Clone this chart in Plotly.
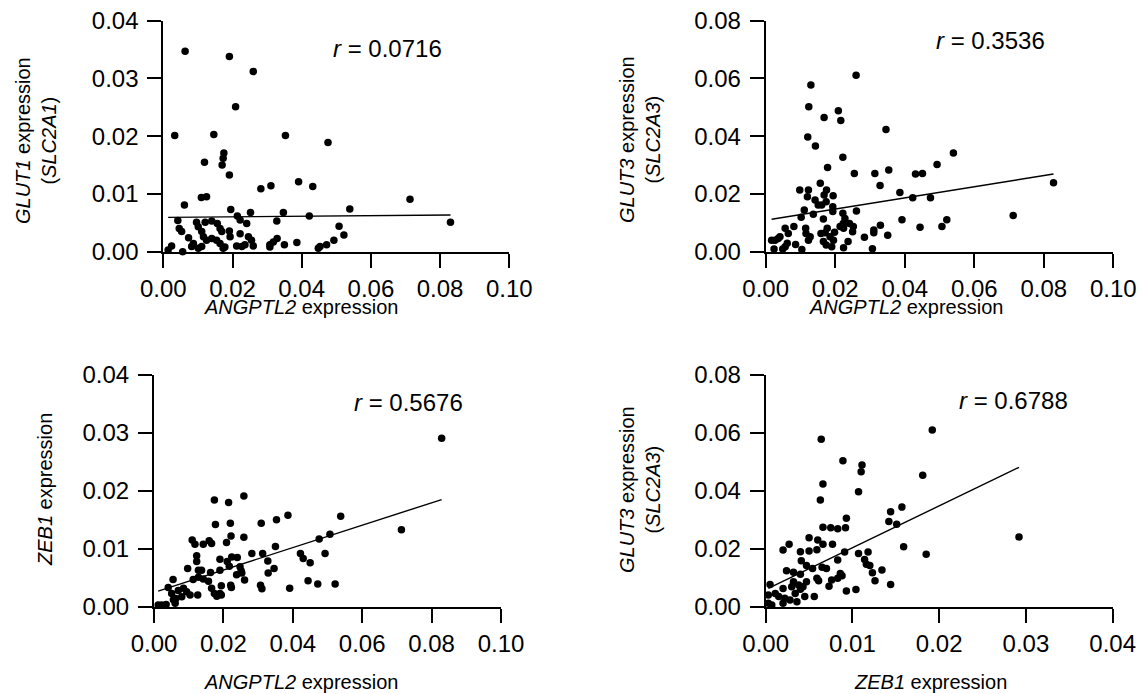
import numpy as np
import plotly.graph_objects as go

# ---------------- data ----------------
# Panel 1: ANGPTL2 vs GLUT1 (SLC2A1)
p1_x = [0.0063, 0.0191, 0.0260, 0.0209, 0.0033, 0.0146, 0.0353, 0.0476, 0.0175, 0.0173,
        0.0170, 0.0119, 0.0191, 0.0391, 0.0311, 0.0432, 0.0282, 0.0713, 0.0110, 0.0125,
        0.0061, 0.0195, 0.0252, 0.0347, 0.0539, 0.0422, 0.0830, 0.0214, 0.0222, 0.0241,
        0.0328, 0.0042, 0.0508, 0.0046, 0.0053, 0.0096, 0.0101, 0.0121, 0.0140, 0.0156,
        0.0164, 0.0169, 0.0191, 0.0193, 0.0111, 0.0116, 0.0125, 0.0140, 0.0154, 0.0073,
        0.0087, 0.0082, 0.0101, 0.0111, 0.0164, 0.0173, 0.0178, 0.0222, 0.0246, 0.0255,
        0.0260, 0.0236, 0.0212, 0.0227, 0.0329, 0.0318, 0.0308, 0.0308, 0.0350, 0.0386,
        0.0448, 0.0453, 0.0472, 0.0493, 0.0522, 0.0024, 0.0014, 0.0056]
p1_y = [0.0347, 0.0338, 0.0312, 0.0251, 0.0201, 0.0203, 0.0201, 0.0189, 0.0171, 0.0162,
        0.0150, 0.0155, 0.0133, 0.0121, 0.0114, 0.0113, 0.0109, 0.0091, 0.0094, 0.0095,
        0.0081, 0.0073, 0.0068, 0.0068, 0.0074, 0.0062, 0.0051, 0.0062, 0.0055, 0.0049,
        0.0053, 0.0054, 0.0044, 0.0040, 0.0035, 0.0051, 0.0043, 0.0051, 0.0053, 0.0049,
        0.0040, 0.0035, 0.0036, 0.0026, 0.0035, 0.0026, 0.0020, 0.0023, 0.0020, 0.0024,
        0.0014, 0.0009, 0.0006, 0.0009, 0.0014, 0.0006, 0.0008, 0.0031, 0.0026, 0.0020,
        0.0010, 0.0012, 0.0010, 0.0009, 0.0023, 0.0017, 0.0012, 0.0008, 0.0012, 0.0016,
        0.0006, 0.0009, 0.0012, 0.0020, 0.0029, 0.0010, 0.0003, 0.0000]

# Panel 2: ANGPTL2 vs GLUT3 (SLC2A3)
p2_x = [0.0260, 0.0130, 0.0124, 0.0209, 0.0168, 0.0216, 0.0346, 0.0121, 0.0143, 0.0540,
        0.0222, 0.0493, 0.0178, 0.0255, 0.0314, 0.0354, 0.0431, 0.0451, 0.0157, 0.0329,
        0.0828, 0.0386, 0.0098, 0.0123, 0.0175, 0.0120, 0.0142, 0.0168, 0.0194, 0.0423,
        0.0474, 0.0174, 0.0151, 0.0161, 0.0193, 0.0111, 0.0137, 0.0193, 0.0261, 0.0222,
        0.0228, 0.0223, 0.0712, 0.0102, 0.0166, 0.0392, 0.0521, 0.0241, 0.0252, 0.0250,
        0.0330, 0.0115, 0.0128, 0.0123, 0.0116, 0.0081, 0.0056, 0.0065, 0.0041, 0.0017,
        0.0027, 0.0036, 0.0444, 0.0507, 0.0177, 0.0171, 0.0159, 0.0185, 0.0198, 0.0166,
        0.0174, 0.0190, 0.0195, 0.0224, 0.0214, 0.0237, 0.0224, 0.0284, 0.0311, 0.0311,
        0.0351, 0.0307, 0.0104, 0.0086, 0.0062, 0.0024, 0.0049, 0.0056]
p2_y = [0.0611, 0.0577, 0.0502, 0.0488, 0.0465, 0.0454, 0.0423, 0.0397, 0.0366, 0.0342,
        0.0327, 0.0302, 0.0292, 0.0271, 0.0271, 0.0283, 0.0269, 0.0271, 0.0237, 0.0229,
        0.0239, 0.0205, 0.0214, 0.0214, 0.0214, 0.0190, 0.0179, 0.0196, 0.0194, 0.0187,
        0.0187, 0.0173, 0.0162, 0.0162, 0.0156, 0.0144, 0.0130, 0.0139, 0.0141, 0.0133,
        0.0115, 0.0098, 0.0125, 0.0119, 0.0113, 0.0111, 0.0111, 0.0098, 0.0087, 0.0069,
        0.0092, 0.0081, 0.0052, 0.0040, 0.0063, 0.0087, 0.0081, 0.0063, 0.0052, 0.0040,
        0.0040, 0.0046, 0.0085, 0.0087, 0.0081, 0.0066, 0.0063, 0.0052, 0.0067, 0.0035,
        0.0023, 0.0017, 0.0040, 0.0081, 0.0087, 0.0035, 0.0014, 0.0050, 0.0075, 0.0066,
        0.0057, 0.0010, 0.0008, 0.0025, 0.0029, 0.0009, 0.0009, 0.0017]

# Panel 3: ANGPTL2 vs ZEB1
p3_x = [0.0829, 0.0174, 0.0215, 0.0259, 0.0177, 0.0220, 0.0309, 0.0353, 0.0386, 0.0538,
        0.0713, 0.0222, 0.0259, 0.0110, 0.0118, 0.0142, 0.0159, 0.0166, 0.0209, 0.0476,
        0.0507, 0.0123, 0.0123, 0.0350, 0.0282, 0.0313, 0.0224, 0.0240, 0.0190, 0.0211,
        0.0217, 0.0328, 0.0422, 0.0430, 0.0450, 0.0493, 0.0097, 0.0128, 0.0137, 0.0163,
        0.0190, 0.0248, 0.0251, 0.0238, 0.0253, 0.0346, 0.0329, 0.0055, 0.0113, 0.0128,
        0.0142, 0.0157, 0.0261, 0.0444, 0.0472, 0.0522, 0.0391, 0.0307, 0.0311, 0.0221,
        0.0223, 0.0194, 0.0194, 0.0166, 0.0174, 0.0181, 0.0190, 0.0126, 0.0041, 0.0051,
        0.0070, 0.0085, 0.0080, 0.0104, 0.0094, 0.0056, 0.0061, 0.0063, 0.0012, 0.0022,
        0.0035]
p3_y = [0.0291, 0.0184, 0.0180, 0.0191, 0.0142, 0.0144, 0.0144, 0.0150, 0.0158, 0.0156,
        0.0133, 0.0122, 0.0120, 0.0115, 0.0108, 0.0108, 0.0114, 0.0109, 0.0111, 0.0117,
        0.0125, 0.0088, 0.0078, 0.0104, 0.0092, 0.0092, 0.0086, 0.0085, 0.0082, 0.0078,
        0.0070, 0.0079, 0.0092, 0.0083, 0.0076, 0.0092, 0.0066, 0.0063, 0.0063, 0.0059,
        0.0063, 0.0069, 0.0062, 0.0055, 0.0058, 0.0066, 0.0058, 0.0047, 0.0047, 0.0051,
        0.0048, 0.0044, 0.0046, 0.0045, 0.0039, 0.0039, 0.0032, 0.0037, 0.0031, 0.0037,
        0.0033, 0.0036, 0.0020, 0.0032, 0.0023, 0.0018, 0.0023, 0.0020, 0.0033, 0.0023,
        0.0028, 0.0032, 0.0017, 0.0020, 0.0026, 0.0012, 0.0006, 0.0014, 0.0003, 0.0003,
        0.0004]

# Panel 4: ZEB1 vs GLUT3 (SLC2A3)
p4_x = [0.0192, 0.0064, 0.0089, 0.0111, 0.0110, 0.0181, 0.0066, 0.0107, 0.0063, 0.0157,
        0.0144, 0.0142, 0.0151, 0.0093, 0.0066, 0.0075, 0.0083, 0.0092, 0.0292, 0.0050,
        0.0060, 0.0027, 0.0020, 0.0066, 0.0077, 0.0040, 0.0050, 0.0059, 0.0159, 0.0185,
        0.0091, 0.0107, 0.0118, 0.0041, 0.0047, 0.0054, 0.0083, 0.0114, 0.0116, 0.0120,
        0.0065, 0.0070, 0.0123, 0.0134, 0.0126, 0.0024, 0.0032, 0.0040, 0.0059, 0.0061,
        0.0076, 0.0083, 0.0086, 0.0088, 0.0073, 0.0144, 0.0093, 0.0104, 0.0005, 0.0011,
        0.0020, 0.0030, 0.0032, 0.0038, 0.0043, 0.0047, 0.0034, 0.0040, 0.0045, 0.0056,
        0.0022, 0.0020, 0.0036, 0.0028, 0.0003, 0.0003, 0.0007, 0.0015]
p4_y = [0.0610, 0.0578, 0.0504, 0.0489, 0.0466, 0.0454, 0.0424, 0.0397, 0.0368, 0.0344,
        0.0328, 0.0294, 0.0285, 0.0305, 0.0274, 0.0273, 0.0269, 0.0273, 0.0241, 0.0238,
        0.0230, 0.0216, 0.0196, 0.0216, 0.0216, 0.0190, 0.0192, 0.0197, 0.0207, 0.0181,
        0.0189, 0.0184, 0.0189, 0.0159, 0.0142, 0.0132, 0.0161, 0.0163, 0.0147, 0.0142,
        0.0136, 0.0132, 0.0117, 0.0127, 0.0090, 0.0124, 0.0119, 0.0112, 0.0098, 0.0090,
        0.0092, 0.0098, 0.0115, 0.0107, 0.0071, 0.0077, 0.0054, 0.0059, 0.0077, 0.0046,
        0.0063, 0.0069, 0.0086, 0.0075, 0.0069, 0.0086, 0.0046, 0.0060, 0.0035, 0.0035,
        0.0029, 0.0012, 0.0017, 0.0023, 0.0040, 0.0012, 0.0006, 0.0035]

# regression lines (slope, intercept)
fit_slope = [0.0049, 0.1934, 0.1933, 1.446]
fit_intercept = [0.00594, 0.0109, 0.00247, 0.0059]

r_labels = ["0.0716", "0.3536", "0.5676", "0.6788"]
x_titles = ["<i>ANGPTL2</i> expression", "<i>ANGPTL2</i> expression",
            "<i>ANGPTL2</i> expression", "<i>ZEB1</i> expression"]
y_titles = ["<i>GLUT1</i> expression<br>(<i>SLC2A1</i>)",
            "<i>GLUT3</i> expression<br>(<i>SLC2A3</i>)",
            "<i>ZEB1</i> expression",
            "<i>GLUT3</i> expression<br>(<i>SLC2A3</i>)"]
x_ranges = [[0, 0.10], [0, 0.10], [0, 0.10], [0, 0.04]]
x_dticks = [0.02, 0.02, 0.02, 0.01]
y_ranges = [[0, 0.04], [0, 0.08], [0, 0.04], [0, 0.08]]
y_dticks = [0.01, 0.02, 0.01, 0.02]

# ---------------- layout geometry ----------------
W, H = 1143, 694
FONT = "Arial, 'Liberation Sans', Helvetica, sans-serif"
# plot-area pixel boxes (left, right, top, bottom)
boxes = [(163.3, 509.3, 20.7, 251.7),
         (765.7, 1113.3, 20.7, 251.7),
         (154.0, 501.0, 375.0, 606.7),
         (765.7, 1112.7, 375.0, 606.7)]
r_pos = [(0.649, 0.879), (0.648, 0.913), (0.734, 0.883), (0.715, 0.892)]
x_title_pos = [(301, 307), (906, 307), (301, 682), (930, 682)]
y_title_pos = [(36, 141), (640, 140), (45, 490), (640, 490)]

xs = [p1_x, p2_x, p3_x, p4_x]
ys = [p1_y, p2_y, p3_y, p4_y]

fig = go.Figure()
annotations = []
for i in range(4):
    ax = "" if i == 0 else str(i + 1)
    xa, ya = "x" + ax, "y" + ax
    fig.add_trace(go.Scatter(x=xs[i], y=ys[i], mode="markers", xaxis=xa, yaxis=ya,
                             marker=dict(size=7.5, color="black"), cliponaxis=False,
                             showlegend=False, hoverinfo="x+y"))
    xmin, xmax = min(xs[i]), max(xs[i])
    fx = np.array([xmin, xmax])
    fy = fit_intercept[i] + fit_slope[i] * fx
    fig.add_trace(go.Scatter(x=fx, y=fy, mode="lines", xaxis=xa, yaxis=ya,
                             line=dict(color="black", width=1.4), cliponaxis=False,
                             showlegend=False, hoverinfo="skip"))
    l, r, t, b = boxes[i]
    common = dict(showline=True, linecolor="black", linewidth=2, ticks="outside",
                  ticklen=14, tickwidth=2, tickcolor="black", showgrid=False,
                  zeroline=False, tickformat=".2f", automargin=False,
                  tickfont=dict(family=FONT, size=24, color="black"))
    fig.layout["xaxis" + ax] = dict(domain=[l / W, r / W], anchor=ya, range=x_ranges[i],
                                    dtick=x_dticks[i], tick0=0, ticklabelstandoff=0, **common)
    fig.layout["yaxis" + ax] = dict(domain=[1 - b / H, 1 - t / H], anchor=xa, range=y_ranges[i],
                                    dtick=y_dticks[i], tick0=0, ticklabelstandoff=4, **common)
    annotations.append(dict(text="<i>r</i> = " + r_labels[i], xref=xa + " domain", yref=ya + " domain",
                            x=r_pos[i][0], y=r_pos[i][1], xanchor="center", yanchor="middle",
                            showarrow=False, font=dict(family=FONT, size=24, color="black")))
    annotations.append(dict(text=x_titles[i], xref="paper", yref="paper",
                            x=x_title_pos[i][0] / W, y=1 - x_title_pos[i][1] / H,
                            xanchor="center", yanchor="middle", showarrow=False,
                            font=dict(family=FONT, size=20, color="black")))
    annotations.append(dict(text=y_titles[i], xref="paper", yref="paper",
                            x=y_title_pos[i][0] / W, y=1 - y_title_pos[i][1] / H,
                            xanchor="center", yanchor="middle", textangle=-90, showarrow=False,
                            font=dict(family=FONT, size=20, color="black")))

fig.update_layout(width=W, height=H, margin=dict(l=0, r=0, t=0, b=0),
                  paper_bgcolor="white", plot_bgcolor="white",
                  annotations=annotations, showlegend=False)
fig.write_html("out.html", config={"displayModeBar": False},
               post_script="document.body.style.margin='0';document.body.style.overflow='hidden';")
